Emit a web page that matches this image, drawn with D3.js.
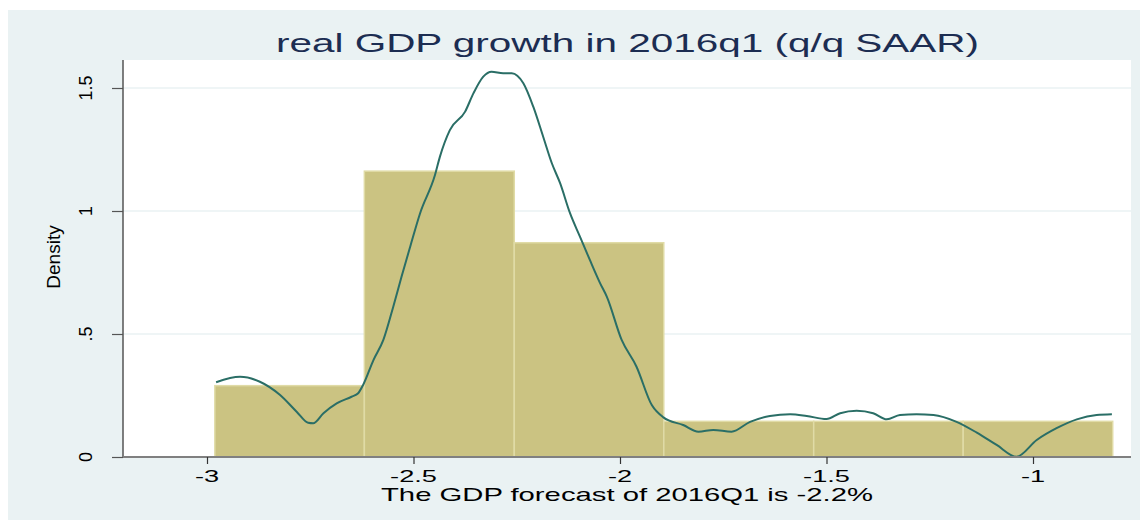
<!DOCTYPE html>
<html>
<head>
<meta charset="utf-8">
<script src="https://cdn.jsdelivr.net/npm/d3@7"></script>
<style>
    body { margin: 0; background: #ffffff; }
    text { font-family: "Liberation Sans", Arial, sans-serif; }
</style>
</head>
<body>
<div id="chart"></div>
<script>
// bordes de las barras del histograma y su densidad
var binEdges = [-2.981, -2.619, -2.256, -1.894, -1.531, -1.169, -0.807];
var barDensity = [0.290, 1.162, 0.871, 0.145, 0.145, 0.145];

// curva kdensity
var curveX = [-2.978, -2.920, -2.872, -2.823, -2.783, -2.755, -2.743, -2.718, -2.686, -2.650,
    -2.634, -2.622, -2.597, -2.573, -2.549, -2.529, -2.508, -2.484, -2.448, -2.436,
    -2.412, -2.375, -2.355, -2.331, -2.311, -2.283, -2.262, -2.234, -2.210, -2.186,
    -2.165, -2.145, -2.121, -2.097, -2.073, -2.048, -2.032, -1.996, -1.960, -1.923,
    -1.895, -1.847, -1.810, -1.774, -1.730, -1.685, -1.637, -1.588, -1.548, -1.500,
    -1.467, -1.427, -1.387, -1.354, -1.322, -1.282, -1.241, -1.185, -1.136, -1.088,
    -1.040, -0.991, -0.943, -0.894, -0.846, -0.809];
var curveY = [0.304, 0.326, 0.306, 0.252, 0.184, 0.139, 0.137, 0.178, 0.218, 0.245,
    0.259, 0.293, 0.394, 0.476, 0.611, 0.733, 0.855, 0.991, 1.146, 1.221,
    1.329, 1.404, 1.478, 1.546, 1.566, 1.560, 1.560, 1.519, 1.424, 1.302,
    1.194, 1.113, 0.991, 0.896, 0.801, 0.706, 0.652, 0.476, 0.367, 0.211,
    0.161, 0.130, 0.103, 0.110, 0.103, 0.143, 0.167, 0.174, 0.167, 0.154,
    0.178, 0.188, 0.178, 0.153, 0.171, 0.174, 0.171, 0.143, 0.099, 0.049,
    0.001, 0.069, 0.117, 0.153, 0.171, 0.174];

var xTicks = [-3, -2.5, -2, -1.5, -1];
var xTickLabels = ['-3', '-2.5', '-2', '-1.5', '-1'];
var yTicks = [0, 0.5, 1, 1.5];
var yTickLabels = ['0', '.5', '1', '1.5'];

var titleText = 'real GDP growth in 2016q1 (q/q SAAR)';
var xTitle = 'The GDP forecast of 2016Q1 is -2.2%';
var yTitle = 'Density';

function showHistogram() {
    var width = 1147;
    var height = 520;
    var plot = { left: 123, right: 1131, top: 60, bottom: 457 };

    var svg = d3.select('#chart').append('svg')
        .attr('width', width)
        .attr('height', height);

    // fondo exterior estilo Stata
    svg.append('rect')
        .attr('x', 8).attr('y', 10)
        .attr('width', 1132).attr('height', 510)
        .attr('fill', '#eaf2f3');

    // region del grafico
    svg.append('rect')
        .attr('x', plot.left).attr('y', plot.top)
        .attr('width', plot.right - plot.left).attr('height', plot.bottom - plot.top)
        .attr('fill', '#ffffff');

    var x = d3.scaleLinear().domain([-3, -1]).range([207, 1033]);
    var y = d3.scaleLinear().domain([0, 1.5]).range([plot.bottom, 88]);

    // lineas de la grilla
    svg.selectAll('.grid')
        .data(yTicks.filter(d => d > 0))
        .enter().append('line')
        .attr('x1', plot.left).attr('x2', plot.right)
        .attr('y1', d => y(d)).attr('y2', d => y(d))
        .attr('stroke', '#eaf2f3')
        .attr('stroke-width', 1.5);

    // barras
    var bars = barDensity.map((d, i) => ({ x0: binEdges[i], x1: binEdges[i + 1], v: d }));
    svg.selectAll('.bar')
        .data(bars)
        .enter().append('rect')
        .attr('x', d => x(d.x0))
        .attr('y', d => y(d.v))
        .attr('width', d => x(d.x1) - x(d.x0))
        .attr('height', d => y(0) - y(d.v))
        .attr('fill', '#cbc382')
        .attr('stroke', '#e0dba6')
        .attr('stroke-width', 1.5);

    // curva de densidad
    var pts = curveX.map((d, i) => [d, curveY[i]]);
    var line = d3.line()
        .x(d => x(d[0]))
        .y(d => y(d[1]))
        .curve(d3.curveMonotoneX);
    svg.append('path')
        .attr('d', line(pts))
        .attr('fill', 'none')
        .attr('stroke', '#2a6e66')
        .attr('stroke-width', 2);

    // eje y
    var yAxis = d3.axisLeft(y).tickValues(yTicks).tickSize(11).tickFormat('');
    var gy = svg.append('g')
        .attr('transform', 'translate(' + plot.left + ',0)')
        .call(yAxis);
    gy.select('.domain').attr('d', 'M0,' + plot.top + 'V' + plot.bottom).attr('stroke', '#555').attr('stroke-width', 1.5);
    gy.selectAll('.tick line').attr('stroke', '#555').attr('stroke-width', 1.2);

    svg.selectAll('.ylab')
        .data(yTicks)
        .enter().append('text')
        .attr('transform', d => 'translate(92,' + y(d) + ') rotate(-90)')
        .attr('text-anchor', 'middle')
        .attr('font-size', 18)
        .attr('fill', '#000')
        .text((d, i) => yTickLabels[i]);

    // eje x
    var xAxis = d3.axisBottom(x).tickValues(xTicks).tickSize(7).tickFormat('');
    var gx = svg.append('g')
        .attr('transform', 'translate(0,' + plot.bottom + ')')
        .call(xAxis);
    gx.select('.domain').attr('d', 'M' + plot.left + ',0H' + plot.right).attr('stroke', '#808080').attr('stroke-width', 2);
    gx.selectAll('.tick line').attr('stroke', '#333').attr('stroke-width', 1.2);

    svg.selectAll('.xlab')
        .data(xTicks)
        .enter().append('text')
        .attr('transform', d => 'translate(' + x(d) + ',482) scale(1.6,1)')
        .attr('text-anchor', 'middle')
        .attr('font-size', 17)
        .attr('fill', '#000')
        .text((d, i) => xTickLabels[i]);

    // titulos
    var cx = (plot.left + plot.right) / 2;
    svg.append('text')
        .attr('x', cx - 351).attr('y', 52)
        .attr('font-size', 26)
        .attr('fill', '#1c2d52')
        .attr('textLength', 703)
        .attr('lengthAdjust', 'spacingAndGlyphs')
        .text(titleText);

    svg.append('text')
        .attr('x', cx - 246).attr('y', 501)
        .attr('font-size', 19)
        .attr('fill', '#000')
        .attr('textLength', 492)
        .attr('lengthAdjust', 'spacingAndGlyphs')
        .text(xTitle);

    svg.append('text')
        .attr('transform', 'translate(60,257) rotate(-90)')
        .attr('text-anchor', 'middle')
        .attr('font-size', 19)
        .attr('fill', '#000')
        .text(yTitle);
}

showHistogram();
</script>
</body>
</html>
